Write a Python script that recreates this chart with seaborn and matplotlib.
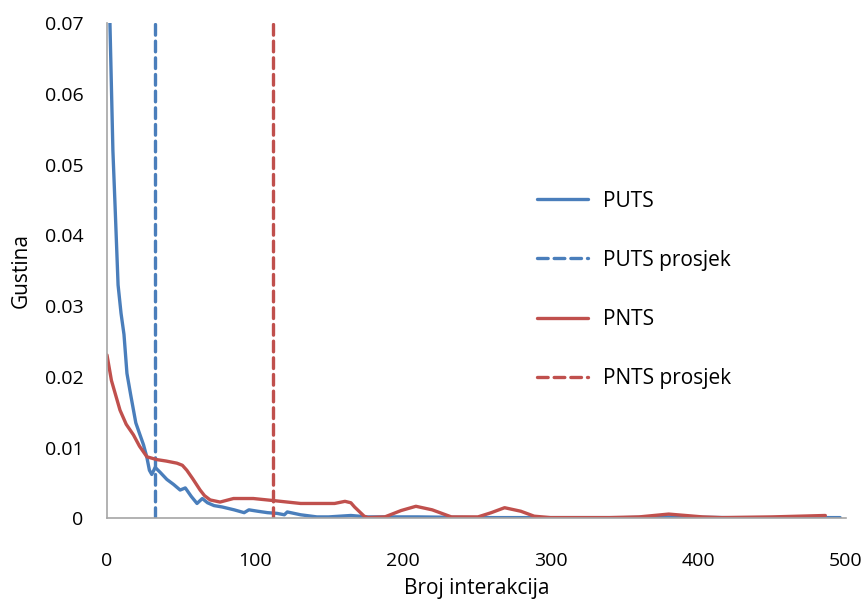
import matplotlib
matplotlib.use("Agg")
import matplotlib.pyplot as plt
import seaborn as sns
import pandas as pd

# ---- data ----
puts_x = [0, 2, 4, 5.5, 7.5, 9.5, 11.5, 13.5, 16, 19.5, 22, 24.7, 26.9, 28.7, 30.3, 32.6,
          36, 40.5, 45, 49.5, 53, 57, 60.9, 64.5, 68, 72.4, 78, 86, 92.8, 96, 102, 108.6,
          115, 120, 122, 131, 142, 150, 165, 176, 190, 210, 250, 300, 350, 380, 420, 460, 496]
puts_y = [0.085, 0.07, 0.052, 0.044, 0.033, 0.029, 0.026, 0.0205, 0.0175, 0.0135, 0.012,
          0.0104, 0.0087, 0.0068, 0.0062, 0.0072, 0.0065, 0.0055, 0.0048, 0.0040, 0.0043,
          0.0031, 0.0021, 0.0028, 0.0022, 0.0018, 0.0016, 0.0012, 0.0008, 0.0012, 0.0010,
          0.0008, 0.0007, 0.0005, 0.0009, 0.0005, 0.0002, 0.0002, 0.0004, 0.0002, 0.0002,
          0.0002, 0.0001, 0.0001, 0.0001, 0.0002, 0.0001, 0.0001, 0.0001]

pnts_x = [0, 3, 8.8, 13, 17.9, 22, 27, 33.8, 40, 47.3, 51, 54, 58, 63, 66, 69.8, 76.5,
          85.6, 99, 113, 122, 131, 154, 161, 165, 167.5, 171, 174, 176.5, 188, 199, 209,
          220, 233, 251, 260, 269, 280, 289, 300, 340, 360, 380, 403, 416, 450, 486]
pnts_y = [0.0231, 0.0195, 0.0153, 0.0133, 0.0118, 0.0102, 0.0087, 0.0083, 0.0081, 0.0078,
          0.0075, 0.0068, 0.0056, 0.0040, 0.0032, 0.0026, 0.0023, 0.0028, 0.0028, 0.0025,
          0.0023, 0.0021, 0.0021, 0.0024, 0.0022, 0.0016, 0.0009, 0.0003, 0.0001, 0.0002,
          0.0011, 0.0017, 0.0012, 0.0002, 0.0002, 0.0008, 0.0015, 0.0010, 0.0003, 0.0001,
          0.0001, 0.0002, 0.0006, 0.0002, 0.0001, 0.0002, 0.0004]

puts_mean = 32.5
pnts_mean = 112.3

x_ticks = [0, 100, 200, 300, 400, 500]
y_ticks = [0, 0.01, 0.02, 0.03, 0.04, 0.05, 0.06, 0.07]
y_tick_labels = ["0", "0.01", "0.02", "0.03", "0.04", "0.05", "0.06", "0.07"]

BLUE = "#4A7EBB"
RED = "#C0504D"

sns.set_style("white")
plt.rcParams["font.family"] = ["Open Sans", "DejaVu Sans"]
plt.rcParams["text.color"] = "black"
plt.rcParams["axes.labelcolor"] = "black"

fig = plt.figure(figsize=(8.67, 5.99), dpi=100)
ax = fig.add_axes([0.1234, 0.1347, 0.8524, 0.8263])

df_puts = pd.DataFrame({"x": puts_x, "y": puts_y})
df_pnts = pd.DataFrame({"x": pnts_x, "y": pnts_y})

sns.lineplot(data=df_puts, x="x", y="y", ax=ax, color=BLUE, lw=2.4, label="PUTS",
             sort=False, estimator=None, solid_capstyle="round")
ax.axvline(puts_mean, color=BLUE, lw=2.4, dashes=(3.2, 1.8), dash_capstyle="round",
           label="PUTS prosjek")
sns.lineplot(data=df_pnts, x="x", y="y", ax=ax, color=RED, lw=2.4, label="PNTS",
             sort=False, estimator=None, solid_capstyle="round")
ax.axvline(pnts_mean, color=RED, lw=2.4, dashes=(3.2, 1.8), dash_capstyle="round",
           label="PNTS prosjek")

ax.set_xlim(0, 500)
ax.set_ylim(0, 0.07)
ax.set_xticks(x_ticks)
ax.set_yticks(y_ticks)
ax.set_yticklabels(y_tick_labels)
ax.tick_params(axis="both", labelsize=14, colors="#A6A6A6", labelcolor="black",
               direction="out", length=5, width=1)
ax.tick_params(axis="y", pad=12)
ax.tick_params(axis="x", pad=19)
for s in ["top", "right"]:
    ax.spines[s].set_visible(False)
for s in ["left", "bottom"]:
    ax.spines[s].set_color("#A6A6A6")
    ax.spines[s].set_linewidth(1.2)

ax.set_xlabel("Broj interakcija", fontsize=15, labelpad=6)
ax.set_ylabel("Gustina", fontsize=15, labelpad=9.5)

leg = ax.legend(loc="upper left", bbox_to_anchor=(0.556, 0.70), frameon=False,
                fontsize=15, handlelength=2.45, handletextpad=0.72, labelspacing=1.83)

fig.savefig("out.png", dpi=100)
